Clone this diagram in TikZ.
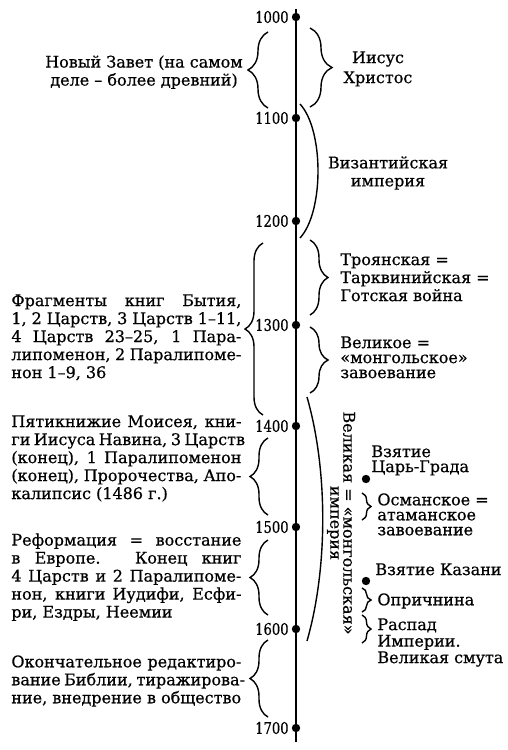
\documentclass[tikz,border=0pt]{standalone}
\usepackage{fontspec}
\setmainfont{DejaVu Serif}[FakeBold=0.6]
\usetikzlibrary{decorations.pathreplacing}
\newcommand\jline[1]{\makebox[115pt][s]{#1}}
\newcommand\yrtext[1]{\scalebox{0.82}[1]{#1}}
\begin{document}
\begin{tikzpicture}[x=0.5pt,y=-0.5pt,
	font=\fontsize{8}{9}\selectfont,
	dot/.style={circle,fill,inner sep=0pt,minimum size=4.2pt},
	yr/.style={anchor=east,inner sep=0pt},
	txt/.style={anchor=north west,inner sep=0pt,align=left},
	ctxt/.style={anchor=north,inner sep=0pt,align=center},
	tight/.style={font=\fontsize{8}{7.5}\selectfont},
	curly/.style={decorate,decoration={brace,amplitude=#1},line width=0.7pt},
	curly/.default=9pt,
	arc/.style={line width=0.7pt}]
	\useasboundingbox (0,0) rectangle (508,750);
	% time axis
	\coordinate (top) at (296,9);
	\coordinate (bot) at (296,742);
	\draw[line width=1.1pt] (top) -- (bot);
	\node[dot,label={[yr,label distance=1.2pt]left:\yrtext{1000}}] (d1000) at (296,17) {};
	\node[dot,label={[yr,label distance=1.2pt]left:\yrtext{1100}}] (d1100) at (296,118) {};
	\node[dot,label={[yr,label distance=1.2pt]left:\yrtext{1200}}] (d1200) at (296,221) {};
	\node[dot,label={[yr,label distance=1.2pt]left:\yrtext{1300}}] (d1300) at (296,325) {};
	\node[dot,label={[yr,label distance=1.2pt]left:\yrtext{1400}}] (d1400) at (296,426) {};
	\node[dot,label={[yr,label distance=1.2pt]left:\yrtext{1500}}] (d1500) at (296,527) {};
	\node[dot,label={[yr,label distance=1.2pt]left:\yrtext{1600}}] (d1600) at (296,629) {};
	\node[dot,label={[yr,label distance=1.2pt]left:\yrtext{1700}}] (d1700) at (296,728) {};
	% left side: the books
	\draw[curly=10pt] (268,108) -- (268,32);
	\node[ctxt] (nz) at (144,55) {Новый Завет (на самом\\деле -- более древний)};
	\draw[curly] (263,415) -- (263,243);
	\node[txt] (frag) at (11,294) {\jline{Фрагменты книг Бытия,}\\
		\jline{1, 2 Царств, 3 Царств 1--11,}\\
		\jline{4 Царств 23--25, 1 Пара-}\\
		\jline{липоменон, 2 Паралипоме-}\\
		нон 1--9, 36};
	\draw[curly] (268,515) -- (268,438);
	\node[txt] (pyat) at (11,415) {\jline{Пятикнижие Моисея, кни-}\\
		\jline{ги Иисуса Навина, 3 Царств}\\
		\jline{(конец), 1 Паралипоменон}\\
		\jline{(конец), Пророчества, Апо-}\\
		калипсис (1486 г.)};
	\draw[curly] (268,615) -- (268,540);
	\node[txt] (ref) at (11,533) {\jline{Реформация = восстание}\\
		\jline{в Европе. Конец книг}\\
		\jline{4 Царств и 2 Паралипоме-}\\
		\jline{нон, книги Иудифи, Есфи-}\\
		ри, Ездры, Неемии};
	\draw[curly] (268,717) -- (268,640);
	\node[txt] (okon) at (11,655) {\jline{Окончательное редактиро-}\\
		\jline{вание Библии, тиражирова-}\\
		ние, внедрение в общество};
	% right side: the events
	\draw[curly=11pt] (310,28) -- (310,107);
	\node[ctxt,font=\fontsize{8}{10}\selectfont] (ih) at (378,51) {Иисус\\Христос};
	\draw[arc] (300,104) .. controls (324,130) and (324,212) .. (300,238);
	\node[ctxt] (viz) at (388,156) {Византийская\\империя};
	\draw[curly] (310,240) -- (310,315);
	\node[txt] (troy) at (340,253) {Троянская =\\Тарквинийская =\\Готская война};
	\draw[curly] (310,327) -- (310,393);
	\node[txt,tight] (mong) at (340,336) {Великое =\\«монгольское»\\завоевание};
	\draw[arc] (307,397) .. controls (328,470) and (328,568) .. (307,641);
	\node[rotate=-90,align=center,inner sep=0pt,font=\fontsize{8}{6.5}\selectfont] (gme) at (341,523) {Великая = «монгольская»\\империя};
	\node[dot] (d1453) at (366,479) {};
	\node[txt,tight] (tsar) at (371,445) {Взятие\\Царь-Града};
	\draw[curly=4.5pt] (362,493) -- (362,520);
	\node[txt,tight] (osm) at (377,493) {Османское =\\атаманское\\завоевание};
	\node[dot] (d1552) at (366,581) {};
	\node[txt] (kaz) at (375,563) {Взятие Казани};
	\draw[curly=4.5pt] (362,588) -- (362,612);
	\node[txt] (opr) at (377,593) {Опричнина};
	\draw[curly=4.5pt] (362,615) -- (362,643);
	\node[txt,font=\fontsize{8}{8.25}\selectfont] (rasp) at (377,618) {Распад\\Империи.\\Великая смута};
\end{tikzpicture}
\end{document}
